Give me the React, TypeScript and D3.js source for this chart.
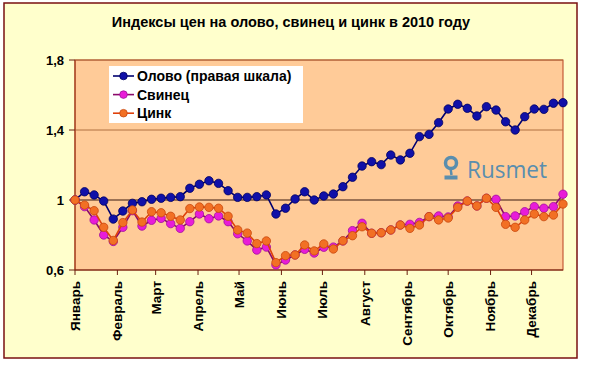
import React from "react";
import * as d3 from "d3";

const TITLE = "Индексы цен на олово, свинец и цинк в 2010 году";

const DATES = [
  "2010-01-01","2010-01-08","2010-01-15","2010-01-22","2010-01-29",
  "2010-02-05","2010-02-12","2010-02-19","2010-02-26",
  "2010-03-05","2010-03-12","2010-03-19","2010-03-26",
  "2010-04-02","2010-04-09","2010-04-16","2010-04-23","2010-04-30",
  "2010-05-07","2010-05-14","2010-05-21","2010-05-28",
  "2010-06-04","2010-06-11","2010-06-18","2010-06-25",
  "2010-07-02","2010-07-09","2010-07-16","2010-07-23","2010-07-30",
  "2010-08-06","2010-08-13","2010-08-20","2010-08-27",
  "2010-09-03","2010-09-10","2010-09-17","2010-09-24",
  "2010-10-01","2010-10-08","2010-10-15","2010-10-22","2010-10-29",
  "2010-11-05","2010-11-12","2010-11-19","2010-11-26",
  "2010-12-03","2010-12-10","2010-12-17","2010-12-24",
];

const TIN = [
  1.0, 1.047, 1.029, 0.994, 0.891, 0.937, 0.981, 0.99, 1.004, 1.01,
  1.015, 1.019, 1.067, 1.09, 1.11, 1.095, 1.053, 1.015, 1.015, 1.019,
  1.029, 0.92, 0.953, 1.006, 1.047, 1.0, 1.023, 1.034, 1.076, 1.13,
  1.194, 1.219, 1.202, 1.257, 1.229, 1.267, 1.362, 1.375, 1.442, 1.52,
  1.547, 1.524, 1.48, 1.533, 1.514, 1.447, 1.4, 1.476, 1.52, 1.518,
  1.553, 1.556,
];

const LEAD = [
  1.0, 0.962, 0.886, 0.8, 0.763, 0.844, 0.939, 0.851, 0.884, 0.895,
  0.865, 0.838, 0.876, 0.92, 0.893, 0.909, 0.876, 0.807, 0.766, 0.714,
  0.731, 0.629, 0.657, 0.686, 0.718, 0.697, 0.73, 0.731, 0.766, 0.825,
  0.867, 0.81, 0.813, 0.829, 0.857, 0.861, 0.872, 0.905, 0.909, 0.903,
  0.966, 0.994, 0.966, 1.01, 1.004, 0.905, 0.909, 0.933, 0.962, 0.953,
  0.962, 1.033,
];

const ZINC = [
  1.0, 0.971, 0.939, 0.844, 0.769, 0.871, 0.943, 0.874, 0.933, 0.927,
  0.907, 0.886, 0.951, 0.96, 0.958, 0.953, 0.907, 0.829, 0.811, 0.751,
  0.766, 0.642, 0.682, 0.686, 0.743, 0.709, 0.749, 0.72, 0.767, 0.796,
  0.847, 0.81, 0.813, 0.829, 0.857, 0.838, 0.857, 0.905, 0.886, 0.897,
  0.958, 0.994, 0.966, 1.01, 0.958, 0.861, 0.844, 0.886, 0.92, 0.905,
  0.914, 0.977,
];

const MONTH_STARTS = [
  "2010-01-01","2010-02-01","2010-03-01","2010-04-01","2010-05-01","2010-06-01",
  "2010-07-01","2010-08-01","2010-09-01","2010-10-01","2010-11-01","2010-12-01",
];
const MONTH_LABELS = [
  "Январь","Февраль","Март","Апрель","Май","Июнь",
  "Июль","Август","Сентябрь","Октябрь","Ноябрь","Декабрь",
];

const Y_TICKS = [0.6, 1.0, 1.4, 1.8];
const Y_TICK_LABELS = ["0,6", "1", "1,4", "1,8"];

const SERIES_NAMES = ["Олово (правая шкала)", "Свинец", "Цинк"];

const FONT = "Arial, 'Liberation Sans', sans-serif";

export default function App() {
  const parse = d3.timeParse("%Y-%m-%d");
  const dates = DATES.map((d) => parse(d) as Date);
  const left = 75, right = 563, top = 60, bottom = 270;

  const x = d3.scaleTime().domain([dates[0], dates[dates.length - 1]]).range([left, right]);
  const y = d3.scaleLinear().domain([0.6, 1.8]).range([bottom, top]);

  const series = [
    { name: SERIES_NAMES[0], values: TIN, line: "#000070", fill: "#1010A8", stroke: "#000060" },
    { name: SERIES_NAMES[1], values: LEAD, line: "#8B0A6A", fill: "#E81CD8", stroke: "#A0109A" },
    { name: SERIES_NAMES[2], values: ZINC, line: "#E0400A", fill: "#F27024", stroke: "#C8480E" },
  ];

  const lineGen = (vals: number[]) =>
    d3.line<number>().x((_, i) => x(dates[i])).y((v) => y(v))(vals) || "";

  const months = MONTH_STARTS.map((d) => parse(d) as Date);

  return (
    <svg
      width={593}
      height={375}
      style={{ position: "absolute", left: 0, top: 0, background: "#ffffff" }}
      fontFamily={FONT}
    >
      <rect x={4} y={3} width={573} height={355} fill="#FFFFCC" stroke="#7A1010" strokeWidth={1.5} />
      <text x={291} y={27} textAnchor="middle" fontSize={14.5} fontWeight="bold" fill="#000">
        {TITLE}
      </text>

      <rect x={left} y={top} width={right - left} height={bottom - top} fill="#FFCB98" stroke="#B84020" strokeWidth={1} />

      {Y_TICKS.filter((t) => t !== 0.6 && t !== 1.0).map((t) => (
        <line key={"g" + t} x1={left} x2={right} y1={y(t)} y2={y(t)} stroke="#B07040" strokeWidth={1} />
      ))}
      <line x1={left} x2={right} y1={y(1.0)} y2={y(1.0)} stroke="#3A1A10" strokeWidth={1.2} />

      {/* watermark logo */}
      <g fill="none" stroke="#5A8EAE">
        <circle cx={451} cy={163} r={5.5} strokeWidth={3.5} />
        <line x1={450.5} y1={168} x2={451.5} y2={175} strokeWidth={2.5} />
      </g>
      <rect x={444.5} y={175.5} width={13} height={4} fill="#5A8EAE" />
      <text x={467} y={178} fontSize={24} fill="#5A8EAE" fontFamily="'Open Sans', 'Noto Sans', sans-serif" textLength={80} lengthAdjust="spacingAndGlyphs">
        Rusmet
      </text>

      {/* axes */}
      <line x1={left} x2={left} y1={top} y2={bottom} stroke="#A04020" strokeWidth={1.2} />
      <line x1={left} x2={right} y1={bottom} y2={bottom} stroke="#6A2010" strokeWidth={1.2} />
      {Y_TICKS.map((t, i) => (
        <g key={"yt" + t}>
          <line x1={left - 6} x2={left} y1={y(t)} y2={y(t)} stroke="#6A2010" strokeWidth={1} />
          <text x={64} y={y(t)} dy="0.35em" textAnchor="end" fontSize={13} fontWeight="bold" fill="#000">
            {Y_TICK_LABELS[i]}
          </text>
        </g>
      ))}
      {months.map((m, i) => (
        <g key={"xt" + i}>
          <line x1={x(m)} x2={x(m)} y1={bottom} y2={bottom + 5} stroke="#6A2010" strokeWidth={1} />
          <text
            transform={`translate(${x(m)},${281}) rotate(-90)`}
            dy="0.36em"
            textAnchor="end"
            fontSize={13.5}
            fontWeight="bold"
            fill="#000"
          >
            {MONTH_LABELS[i]}
          </text>
        </g>
      ))}

      {/* series */}
      {series.map((s) => (
        <g key={s.name}>
          <path d={lineGen(s.values)} fill="none" stroke={s.line} strokeWidth={1.6} />
          {s.values.map((v, i) => (
            <circle key={i} cx={x(dates[i])} cy={y(v)} r={4.2} fill={s.fill} stroke={s.stroke} strokeWidth={0.8} />
          ))}
        </g>
      ))}

      {/* legend */}
      <rect x={109} y={66} width={194} height={57} fill="#FFFFFF" stroke="none" />
      {series.map((s, i) => {
        const cy = 76 + i * 18.6;
        return (
          <g key={"lg" + i}>
            <line x1={113} x2={134} y1={cy} y2={cy} stroke={s.line} strokeWidth={1.6} />
            <circle cx={123.5} cy={cy} r={3.8} fill={s.fill} stroke={s.stroke} strokeWidth={0.8} />
            <text x={137} y={cy} dy="0.36em" fontSize={14} fontWeight="bold" fill="#000">
              {s.name}
            </text>
          </g>
        );
      })}
    </svg>
  );
}
